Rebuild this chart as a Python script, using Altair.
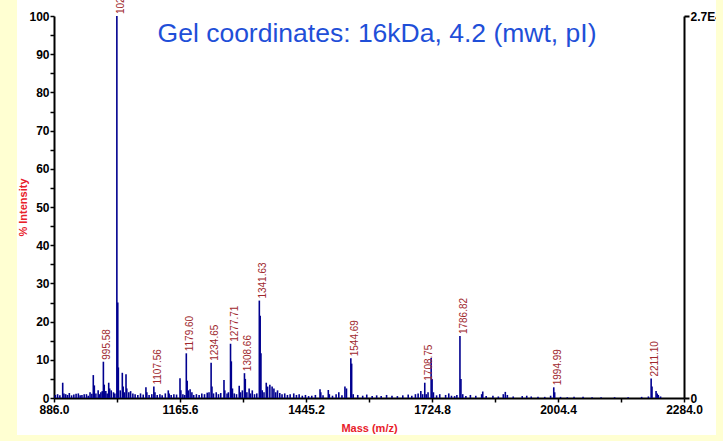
import altair as alt
import pandas as pd

TITLE = "Gel coordinates: 16kDa, 4.2 (mwt, pI)"
X_TITLE = "Mass (m/z)"
Y_TITLE = "% Intensity"

# stick spectrum (m/z, % intensity)
peak_mass = [
    889, 894, 899, 905.3, 908, 912, 916, 920, 925, 930, 935, 940, 944, 948, 953, 958, 962, 966,
    970, 973.2, 975.5, 979, 984, 987, 990, 993, 995.58, 997.5, 1001, 1004, 1007.4, 1009.5, 1013,
    1018, 1021, 1025.49, 1027.5, 1028.8, 1033, 1037.6, 1039.5, 1042, 1045.8, 1047.5, 1052, 1056,
    1061, 1066, 1072, 1078, 1084, 1090, 1092, 1097, 1103, 1107.56, 1110, 1115, 1121, 1126, 1133,
    1139.6, 1141.5, 1146, 1152, 1158, 1165.6, 1167.5, 1172, 1176, 1179.6, 1181.5, 1184, 1188, 1192,
    1196, 1202, 1208, 1214, 1220, 1226, 1230, 1234.65, 1236.5, 1240, 1246, 1251, 1256, 1263.2,
    1265, 1270, 1273, 1277.71, 1279.5, 1282, 1286, 1291, 1297, 1300, 1304, 1308.66, 1310.5, 1314,
    1319, 1322, 1326, 1331, 1336, 1341.63, 1343.5, 1345.2, 1348, 1352, 1357, 1360, 1365, 1370,
    1374, 1378, 1382, 1387, 1392, 1398, 1404, 1410, 1418, 1424, 1430, 1437, 1444, 1451, 1458,
    1466, 1476.3, 1478, 1483, 1494.7, 1497, 1504, 1512, 1518, 1525, 1531.6, 1535, 1544.69, 1546.5,
    1550, 1560, 1571, 1580, 1592, 1602, 1612, 1624, 1636, 1648, 1660, 1672, 1680, 1688, 1694,
    1700, 1704, 1708.75, 1712, 1716, 1722.9, 1725, 1728, 1735, 1742, 1755, 1762, 1768, 1775,
    1780, 1786.82, 1789, 1793, 1800, 1810, 1822, 1835, 1837.4, 1845, 1860, 1872, 1883, 1887.5,
    1892, 1905, 1925, 1935, 1945, 1960, 1975, 1988, 1994.99, 1997, 2010, 2025, 2040, 2060, 2080,
    2100, 2130, 2160, 2190, 2205, 2211.1, 2213, 2222, 2224.5, 2227, 2232,
]
peak_intensity = [
    0.8, 1.0, 0.7, 4.0, 1.2, 1.0, 0.8, 1.3, 0.7, 0.9, 1.1, 1.2, 0.7, 0.8, 1.0, 1.0, 0.6, 1.5,
    1.1, 6.0, 3.3, 1.2, 2.0, 1.0, 1.5, 1.8, 9.5, 3.5, 1.8, 1.2, 4.0, 2.5, 2.0,
    1.5, 1.2, 100.0, 25.0, 8.0, 2.0, 6.6, 3.0, 1.5, 6.2, 2.5, 1.5, 1.8,
    1.2, 1.0, 0.8, 1.2, 0.9, 2.8, 1.5, 0.8, 1.0, 3.0, 1.5, 0.8, 1.0, 0.7, 1.2,
    2.0, 1.2, 0.8, 1.0, 0.9, 5.2, 2.0, 1.0, 0.8, 11.7, 4.5, 2.0, 2.3, 1.5,
    0.8, 1.0, 0.8, 1.2, 1.0, 1.4, 1.5, 9.2, 3.0, 1.2, 1.5, 1.0, 1.3, 4.7,
    2.0, 1.2, 1.5, 14.2, 9.6, 2.5, 1.2, 1.0, 3.2, 1.5, 2.0, 6.5, 5.0, 1.5,
    2.5, 1.2, 2.0, 1.0, 1.2, 25.5, 21.5, 11.7, 2.0, 1.5, 4.0, 3.0, 3.5, 3.0,
    2.5, 1.5, 2.0, 1.3, 1.0, 1.2, 0.8, 1.0, 1.2, 0.8, 1.0, 0.6, 0.8, 0.5, 0.6,
    0.8, 2.3, 1.5, 0.7, 2.1, 1.0, 0.6, 1.0, 1.5, 0.7, 3.0, 2.5, 10.4, 9.0,
    1.0, 0.8, 0.6, 0.9, 0.5, 0.7, 0.5, 0.8, 0.6, 0.5, 0.7, 0.9, 0.6, 1.0, 1.2,
    1.8, 1.0, 4.0, 1.0, 1.5, 10.5, 5.0, 1.5, 0.7, 1.0, 0.8, 1.2, 0.6, 0.5,
    0.8, 16.2, 5.0, 1.0, 0.5, 0.8, 0.6, 1.0, 1.7, 0.5, 0.6, 0.4, 1.0, 1.6,
    0.8, 0.4, 0.5, 0.6, 0.4, 0.3, 0.3, 0.6, 2.8, 1.5, 0.3, 0.2, 0.3, 0.3, 0.2,
    0.2, 0.2, 0.2, 0.3, 0.4, 5.1, 3.0, 1.8, 1.2, 0.8, 0.4,
]

# annotated peaks
label_mass = [995.58, 1025.49, 1107.56, 1179.60, 1234.65, 1277.71, 1308.66, 1341.63,
              1544.69, 1708.75, 1786.82, 1994.99, 2211.10]
label_intensity = [9.5, 100.0, 3.0, 11.7, 9.2, 14.2, 6.5, 25.5, 10.4, 4.0, 16.2, 2.8, 5.1]
label_text = ["995.58", "1025.49", "1107.56", "1179.60", "1234.65", "1277.71", "1308.66",
              "1341.63", "1544.69", "1708.75", "1786.82", "1994.99", "2211.10"]

x_ticks = [886.0, 1025.8, 1165.6, 1305.4, 1445.2, 1585.0, 1724.8, 1864.6, 2004.4, 2144.2, 2284.0]
x_major = [886.0, 1165.6, 1445.2, 1724.8, 2004.4, 2284.0]
y_ticks = list(range(0, 101, 5))
y_major = list(range(0, 101, 10))
right_ticks = [0, 100]
right_labels = ["0", "2.7E4"]

FONT = "Liberation Sans"
NAVY = "#00008F"
LABEL_RED = "#A0282D"
TITLE_RED = "#E8202A"
TITLE_BLUE = "#1F4FD8"
YELLOW = "#FFFFD2"

spec_df = pd.DataFrame({"mass": peak_mass, "intensity": peak_intensity})
spec_df["base"] = 0.0
lab_df = pd.DataFrame({"mass": label_mass, "intensity": label_intensity, "text": label_text})
right_df = pd.DataFrame({"v": right_ticks})
title_df = pd.DataFrame({"t": [TITLE]})
frame_df = pd.DataFrame({"k": [0]})

x_scale = alt.Scale(domain=[886.0, 2284.0], nice=False, zero=False)
y_scale = alt.Scale(domain=[0, 100], nice=False)

x_label_expr = ("indexof([" + ",".join(str(v) for v in x_major) +
                "], datum.value) >= 0 ? format(datum.value, '.1f') : ''")
y_label_expr = ("indexof([" + ",".join(str(v) for v in y_major) +
                "], datum.value) >= 0 ? format(datum.value, 'd') : ''")
right_label_expr = " : ".join(
    f"datum.value == {v} ? '{l}'" for v, l in zip(right_ticks[1:], right_labels[1:])
) + f" : '{right_labels[0]}'"

x_axis = alt.Axis(
    values=x_ticks, labelExpr=x_label_expr, title=X_TITLE,
    domainColor="black", domainWidth=2, tickColor="black", tickWidth=1.5, tickSize=4,
    labelFont=FONT, labelFontWeight="bold", labelFontSize=12, labelColor="black",
    labelPadding=2, labelFlush=False, labelOverlap=False, grid=False,
    titleFont=FONT, titleFontWeight="bold", titleFontSize=11, titleColor=TITLE_RED,
    titlePadding=7,
)
y_axis = alt.Axis(
    values=y_ticks, labelExpr=y_label_expr, title=Y_TITLE,
    domainColor="black", domainWidth=2, tickColor="black", tickWidth=1.5, tickSize=4,
    labelFont=FONT, labelFontWeight="bold", labelFontSize=12, labelColor="black",
    labelPadding=1, labelOverlap=False, labelFlush=False, grid=False,
    titleFont=FONT, titleFontWeight="bold", titleFontSize=11, titleColor=TITLE_RED,
    titlePadding=0,
)

spectrum = alt.Chart(spec_df).mark_rule(color=NAVY, strokeWidth=1.6).encode(
    x=alt.X("mass:Q", scale=x_scale, axis=x_axis),
    y=alt.Y("intensity:Q", scale=y_scale, axis=y_axis),
    y2="base:Q",
)

labels = alt.Chart(lab_df).mark_text(
    angle=270, align="left", baseline="middle", dx=2, dy=4,
    font=FONT, fontSize=10, color=LABEL_RED,
).encode(
    x=alt.X("mass:Q", scale=x_scale, axis=x_axis),
    y=alt.Y("intensity:Q", scale=y_scale, axis=y_axis),
    text="text:N",
)

title_mark = alt.Chart(title_df).mark_text(
    align="center", baseline="alphabetic", font=FONT, fontSize=26.5, color=TITLE_BLUE,
).encode(x=alt.value(323), y=alt.value(26), text="t:N")

right_axis = alt.Chart(right_df).mark_rule(opacity=0).encode(
    y=alt.Y("v:Q", scale=alt.Scale(domain=[0, 100], nice=False), axis=alt.Axis(
        orient="right", values=right_ticks, labelExpr=right_label_expr, title="",
        domainColor="black", domainWidth=2, tickColor="black", tickWidth=2, tickSize=5,
        labelFont=FONT, labelFontWeight="bold", labelFontSize=12, labelColor="black",
        labelPadding=1, labelOverlap=False, labelFlush=False, grid=False,
    )),
)

# pale-yellow page frame around the white panel
strip_left = alt.Chart(frame_df).mark_rect(color=YELLOW).encode(
    x=alt.value(-60), x2=alt.value(-37), y=alt.value(-20), y2=alt.value(430))
strip_right = alt.Chart(frame_df).mark_rect(color=YELLOW).encode(
    x=alt.value(662), x2=alt.value(680), y=alt.value(-20), y2=alt.value(430))
strip_bottom = alt.Chart(frame_df).mark_rect(color=YELLOW).encode(
    x=alt.value(-60), x2=alt.value(680), y=alt.value(419), y2=alt.value(430))

main = alt.layer(spectrum, labels, title_mark)
chart = alt.layer(main, right_axis, strip_left, strip_right, strip_bottom).resolve_scale(
    y="independent"
).properties(
    width=630, height=382,
    autosize=alt.AutoSizeParams(type="none"),
    padding={"left": 54, "top": 16, "right": 39, "bottom": 43},
).configure(background="white").configure_view(strokeWidth=0)

chart.save("out.html", embed_options={"renderer": "svg", "actions": False})
